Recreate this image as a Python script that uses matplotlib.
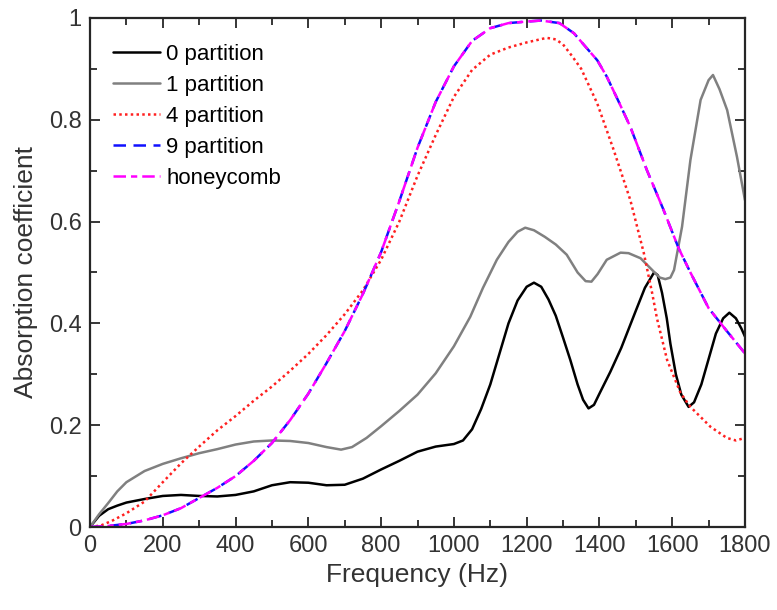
import matplotlib
matplotlib.use("Agg")
import matplotlib.pyplot as plt
from matplotlib.ticker import MultipleLocator

plt.rcParams['font.family'] = ['Liberation Sans', 'DejaVu Sans']

# ---- data ----
f0 = [0, 25, 50, 75, 100, 150, 200, 250, 300, 350, 400, 450, 500, 550, 600, 650, 700, 750,
      800, 850, 900, 950, 1000, 1025, 1050, 1075, 1100, 1125, 1150, 1175, 1200, 1220, 1240,
      1260, 1280, 1300, 1320, 1340, 1355, 1370, 1385, 1400, 1430, 1460, 1500, 1525, 1550,
      1560, 1572, 1585, 1595, 1610, 1625, 1645, 1660, 1680, 1700, 1720, 1740, 1757, 1775,
      1790, 1800]
a0 = [0, 0.022, 0.035, 0.042, 0.048, 0.055, 0.061, 0.063, 0.061, 0.060, 0.063, 0.070, 0.082,
      0.088, 0.087, 0.082, 0.083, 0.095, 0.113, 0.130, 0.148, 0.158, 0.163, 0.170, 0.192,
      0.232, 0.28, 0.34, 0.40, 0.445, 0.472, 0.48, 0.472, 0.447, 0.415, 0.372, 0.328, 0.28,
      0.25, 0.233, 0.24, 0.262, 0.305, 0.352, 0.425, 0.47, 0.50, 0.495, 0.46, 0.41, 0.36,
      0.30, 0.26, 0.236, 0.245, 0.28, 0.33, 0.38, 0.41, 0.421, 0.41, 0.39, 0.374]

f1 = [0, 25, 50, 75, 100, 150, 200, 250, 300, 350, 400, 450, 500, 550, 600, 650, 690, 720,
      760, 800, 850, 900, 950, 1000, 1045, 1080, 1118, 1150, 1175, 1196, 1220, 1250, 1280,
      1310, 1340, 1362, 1378, 1395, 1420, 1458, 1480, 1513, 1549, 1566, 1581, 1595, 1605,
      1627, 1650, 1678, 1700, 1712, 1730, 1751, 1778, 1800]
a1 = [0, 0.025, 0.047, 0.07, 0.088, 0.11, 0.124, 0.135, 0.145, 0.153, 0.162, 0.168, 0.170,
      0.169, 0.165, 0.157, 0.152, 0.157, 0.175, 0.198, 0.228, 0.26, 0.302, 0.355, 0.413,
      0.47, 0.525, 0.56, 0.58, 0.588, 0.583, 0.57, 0.555, 0.535, 0.50, 0.483, 0.482, 0.497,
      0.525, 0.539, 0.538, 0.528, 0.502, 0.49, 0.487, 0.49, 0.505, 0.59, 0.721, 0.839,
      0.878, 0.888, 0.86, 0.819, 0.727, 0.642]

f4 = [0, 30, 60, 100, 150, 200, 250, 300, 350, 400, 450, 500, 550, 600, 650, 700, 750, 800,
      850, 900, 950, 1000, 1050, 1100, 1150, 1200, 1255, 1280, 1300, 1325, 1350, 1394, 1439,
      1485, 1522, 1545, 1558, 1586, 1623, 1650, 1705, 1750, 1775, 1800]
a4 = [0, 0.003, 0.012, 0.027, 0.05, 0.088, 0.125, 0.158, 0.19, 0.218, 0.248, 0.276, 0.307,
      0.34, 0.377, 0.418, 0.465, 0.525, 0.60, 0.69, 0.77, 0.845, 0.898, 0.928, 0.942, 0.952,
      0.961, 0.958, 0.948, 0.925, 0.90, 0.832, 0.741, 0.642, 0.538, 0.459, 0.41, 0.328,
      0.263, 0.236, 0.197, 0.175, 0.17, 0.175]

f9 = [0, 50, 100, 150, 200, 250, 300, 350, 400, 450, 500, 550, 600, 650, 700, 750, 800, 850,
      900, 950, 1000, 1050, 1100, 1150, 1200, 1240, 1290, 1330, 1360, 1394, 1420, 1450, 1485,
      1531, 1575, 1618, 1650, 1700, 1750, 1800]
a9 = [0, 0.002, 0.006, 0.013, 0.023, 0.037, 0.057, 0.077, 0.10, 0.13, 0.165, 0.21, 0.262,
      0.322, 0.385, 0.458, 0.54, 0.64, 0.745, 0.835, 0.905, 0.955, 0.98, 0.99, 0.993, 0.995,
      0.99, 0.97, 0.945, 0.917, 0.885, 0.84, 0.786, 0.70, 0.625, 0.547, 0.50, 0.43, 0.385,
      0.341]

fh = f9
ah = a9

labels = ['0 partition', '1 partition', '4 partition', '9 partition', 'honeycomb']
xticks = [0, 200, 400, 600, 800, 1000, 1200, 1400, 1600, 1800]
yticks = [0, 0.2, 0.4, 0.6, 0.8, 1.0]
yticklabels = ['0', '0.2', '0.4', '0.6', '0.8', '1']

# ---- figure ----
fig = plt.figure(figsize=(7.77, 6.10), dpi=100)
ax = fig.add_axes([90 / 777, 1 - 527 / 610, (745 - 90) / 777, (527 - 18) / 610])

lw = 1.8
kw = dict(solid_joinstyle='round', solid_capstyle='round')
ax.plot(f0, a0, color='black', lw=lw, label=labels[0], **kw)
ax.plot(f1, a1, color='#808080', lw=lw, label=labels[1], **kw)
ax.plot(f4, a4, color='#ff2020', lw=lw, linestyle=(0, (1, 1.3)), label=labels[2])
ax.plot(f9, a9, color='#1010ff', lw=lw, linestyle=(0, (5, 3)), label=labels[3])
ax.plot(fh, ah, color='#ff00ff', lw=lw, linestyle=(0, (5, 2, 2.5, 2)), label=labels[4])

ax.set_xlim(0, 1800)
ax.set_ylim(0, 1)
ax.set_xticks(xticks)
ax.set_yticks(yticks)
ax.set_yticklabels(yticklabels)
ax.xaxis.set_minor_locator(MultipleLocator(100))
ax.yaxis.set_minor_locator(MultipleLocator(0.1))

tc = '#262626'
for s in ax.spines.values():
    s.set_linewidth(1.6)
    s.set_color(tc)
ax.tick_params(which='both', direction='in', top=True, right=True, colors=tc,
               labelsize=17, width=1.3)
ax.tick_params(which='major', length=7, pad=6)
ax.tick_params(which='minor', length=5)
for lab in ax.get_xticklabels() + ax.get_yticklabels():
    lab.set_color('#333333')

ax.set_xlabel('Frequency (Hz)', fontsize=19, color='#333333', labelpad=4)
ax.set_ylabel('Absorption coefficient', fontsize=19, color='#333333', labelpad=8)

leg = ax.legend(loc='upper left', bbox_to_anchor=(0.035, 0.949), frameon=False,
                fontsize=16, handlelength=2.1, handletextpad=0.3, labelspacing=0.45,
                borderpad=0, borderaxespad=0)

fig.savefig('out.png', dpi=100)
